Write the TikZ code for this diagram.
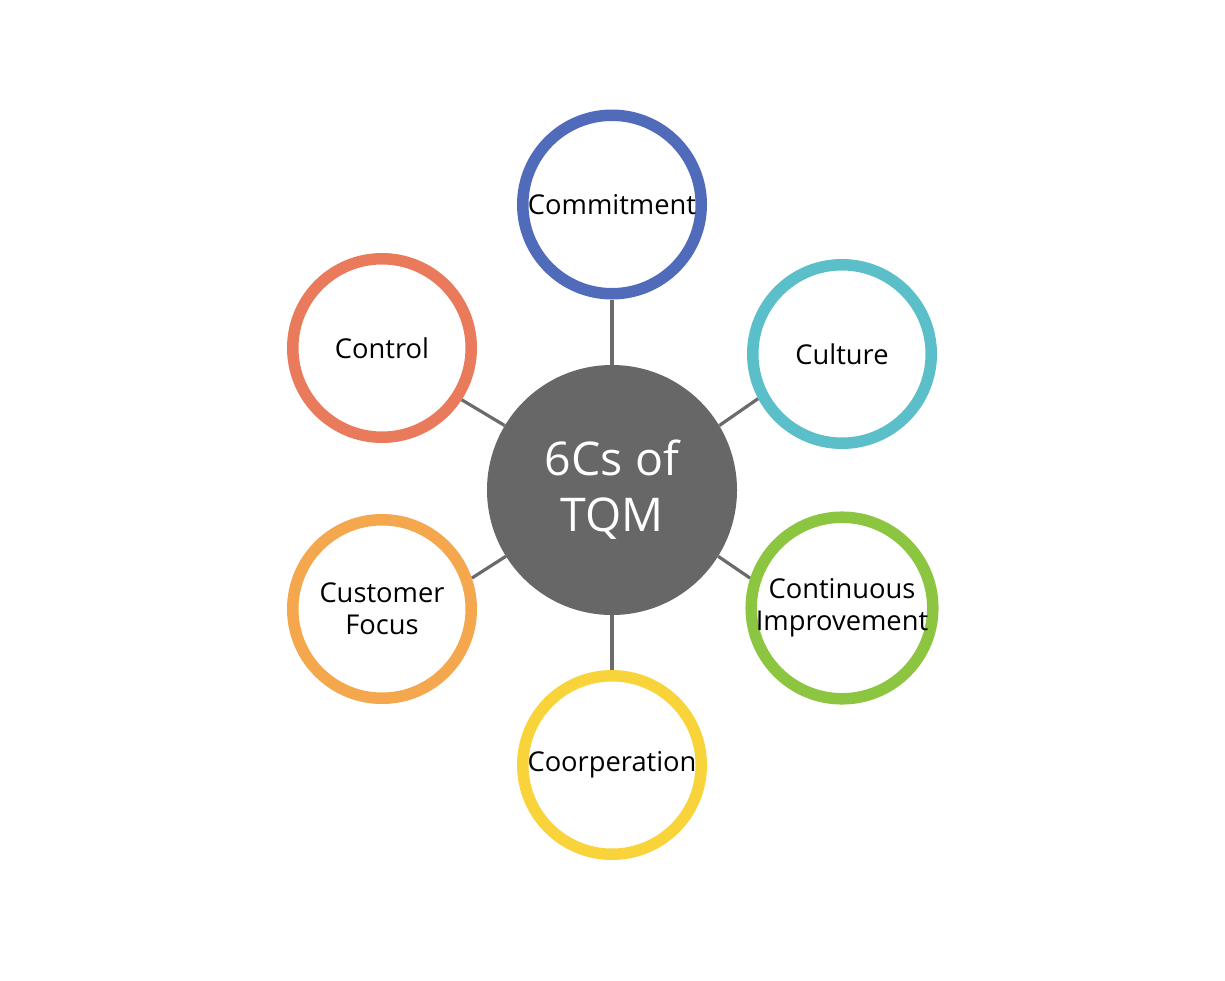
\documentclass[tikz,border=0pt]{standalone}
\usepackage{fontspec}
\setmainfont{Open Sans}
\usetikzlibrary{backgrounds}
\pgfdeclarelayer{canvas}
\pgfsetlayers{canvas,background,main}
\definecolor{cblue}{HTML}{4F6BBA}
\definecolor{ccyan}{HTML}{5BBFC9}
\definecolor{cgreen}{HTML}{8CC540}
\definecolor{cyellow}{HTML}{F8D33A}
\definecolor{corange}{HTML}{F4A74C}
\definecolor{csalmon}{HTML}{E97B5C}
\definecolor{cgray}{HTML}{666766}
\definecolor{lgray}{HTML}{6B6B6B}
\tikzset{
  ring/.style={circle, draw=#1, line width=11.5pt, fill=white, minimum size=178.5pt, inner sep=0pt, align=center, font=\fontsize{27.3}{32}\selectfont, text=black},
  hub/.style={circle, fill=cgray, minimum size=250pt, inner sep=0pt, align=center, text=white, font=\fontsize{46.5}{56}\selectfont},
  link/.style={draw=lgray, line width=3.2pt}
}
\begin{document}
\begin{tikzpicture}[x=1pt,y=-1pt]
\useasboundingbox (0,0) rectangle (1225,980);
\begin{pgfonlayer}{canvas}
\fill[white] (0,0) rectangle (1225,980);
\end{pgfonlayer}
\node[hub] (hub) at (612,490) {6Cs of\\TQM};
\node[ring=cblue] (com) at (612,204.5) {Commitment};
\node[ring=ccyan] (cul) at (842,354) {Culture};
\node[ring=cgreen] (ci) at (842,608) {Continuous\\Improvement};
\node[ring=cyellow] (coo) at (612,765) {Coorperation};
\node[ring=corange] (cf) at (382,609) {Customer\\Focus};
\node[ring=csalmon] (ctl) at (382,348) {Control};
\begin{scope}[on background layer]
\draw[link] (hub.north) -- (com.south);
\draw[link] (hub.31.5) -- (cul.208);
\draw[link] (hub.-32.7) -- (ci.162.7);
\draw[link] (hub.south) -- (coo.north);
\draw[link] (hub.212.5) -- (cf.19.4);
\draw[link] (hub.149.5) -- (ctl.-33);
\end{scope}
\end{tikzpicture}
\end{document}
